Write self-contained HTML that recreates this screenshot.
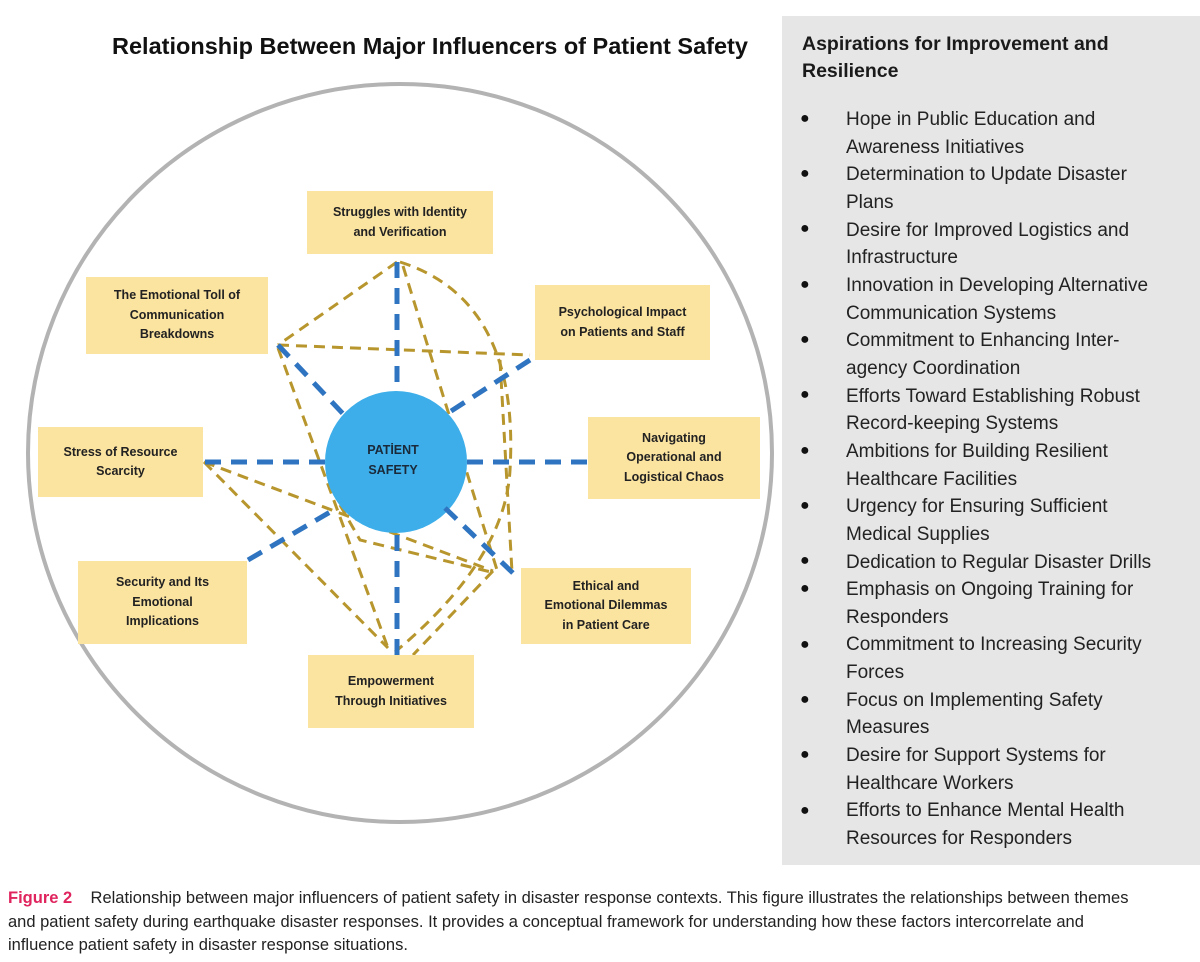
<!DOCTYPE html>
<html><head><meta charset="utf-8"><style>
body{margin:0;width:1200px;height:962px;background:#fff;position:relative;overflow:hidden;font-family:"Liberation Sans",sans-serif;}
.title{position:absolute;left:112px;top:33px;font-size:23.5px;font-weight:bold;color:#111;white-space:nowrap;}
.panel{position:absolute;left:782px;top:16px;width:418px;height:849px;background:#e6e6e6;}
.ph{position:absolute;left:802px;top:31px;font-size:19.5px;font-weight:bold;color:#1a1a1a;line-height:27px;white-space:nowrap;}
.li{position:absolute;left:846px;font-size:19px;color:#222;line-height:27.65px;white-space:nowrap;}
.bu{position:absolute;left:800px;font-size:16px;color:#111;}
.box{position:absolute;background:#fbe3a0;display:flex;align-items:center;justify-content:center;text-align:center;font-size:12.5px;font-weight:bold;color:#222;line-height:19.5px;}
.cap{position:absolute;left:8px;top:887px;width:1190px;font-size:16.5px;line-height:23.5px;color:#222;white-space:nowrap;}
.cap b{color:#e0245e;}
</style></head><body>
<div class="title">Relationship Between Major Influencers of Patient Safety</div>
<div class="panel"></div>
<div class="ph">Aspirations for Improvement and<br>Resilience</div>
<svg width="1200" height="962" style="position:absolute;left:0;top:0">
<ellipse cx="400" cy="453" rx="372" ry="369" fill="none" stroke="#b3b3b3" stroke-width="4"/>
<g fill="none" stroke="#b8962e" stroke-width="3" stroke-dasharray="11,7">
<line x1="397" y1="262" x2="278" y2="345"/>
<line x1="278" y1="345" x2="530" y2="355"/>
<path d="M400 262 Q520 300 510 470 Q505 560 395 652"/>
<line x1="403" y1="266" x2="497" y2="570"/>
<line x1="500" y1="360" x2="512" y2="572"/>
<line x1="278" y1="348" x2="388" y2="648"/>
<line x1="204" y1="462" x2="388" y2="648"/>
<polyline points="204,462 345,515 493,571"/>
<polyline points="493,571 413,655"/>
<polyline points="340,505 360,540 495,573"/>
</g>
<circle cx="396" cy="462" r="71" fill="#3daee9"/>
<g fill="none" stroke="#2f74c0" stroke-width="5" stroke-dasharray="16,10">
<line x1="397" y1="262" x2="397" y2="390"/>
<line x1="397" y1="535" x2="397" y2="655"/>
<line x1="205" y1="462" x2="330" y2="462"/>
<line x1="467" y1="462" x2="588" y2="462"/>
<line x1="278" y1="345" x2="347" y2="418"/>
<line x1="530" y1="360" x2="445" y2="415"/>
<line x1="248" y1="560" x2="337" y2="508"/>
<line x1="445" y1="508" x2="515" y2="575"/>
</g>
<text x="393" y="454" font-family="Liberation Sans" font-size="12.5" font-weight="bold" fill="#1a2a3a" text-anchor="middle">PATİENT</text>
<text x="393" y="474" font-family="Liberation Sans" font-size="12.5" font-weight="bold" fill="#1a2a3a" text-anchor="middle">SAFETY</text>
</svg>
<div class="box" style="left:307px;top:191px;width:186px;height:63px">Struggles with Identity<br>and Verification</div>
<div class="box" style="left:86px;top:277px;width:182px;height:77px">The Emotional Toll of<br>Communication<br>Breakdowns</div>
<div class="box" style="left:535px;top:285px;width:175px;height:75px">Psychological Impact<br>on Patients and Staff</div>
<div class="box" style="left:38px;top:427px;width:165px;height:70px">Stress of Resource<br>Scarcity</div>
<div class="box" style="left:588px;top:417px;width:172px;height:82px">Navigating<br>Operational and<br>Logistical Chaos</div>
<div class="box" style="left:78px;top:561px;width:169px;height:83px">Security and Its<br>Emotional<br>Implications</div>
<div class="box" style="left:521px;top:568px;width:170px;height:76px">Ethical and<br>Emotional Dilemmas<br>in Patient Care</div>
<div class="box" style="left:308px;top:655px;width:166px;height:73px">Empowerment<br>Through Initiatives</div>

<div class="li" style="top:106px">Hope in Public Education and<br>Awareness Initiatives<br>Determination to Update Disaster<br>Plans<br>Desire for Improved Logistics and<br>Infrastructure<br>Innovation in Developing Alternative<br>Communication Systems<br>Commitment to Enhancing Inter-<br>agency Coordination<br>Efforts Toward Establishing Robust<br>Record-keeping Systems<br>Ambitions for Building Resilient<br>Healthcare Facilities<br>Urgency for Ensuring Sufficient<br>Medical Supplies<br>Dedication to Regular Disaster Drills<br>Emphasis on Ongoing Training for<br>Responders<br>Commitment to Increasing Security<br>Forces<br>Focus on Implementing Safety<br>Measures<br>Desire for Support Systems for<br>Healthcare Workers<br>Efforts to Enhance Mental Health<br>Resources for Responders</div>
<div class="bu" style="top:110px">●</div>
<div class="bu" style="top:165px">●</div>
<div class="bu" style="top:220px">●</div>
<div class="bu" style="top:276px">●</div>
<div class="bu" style="top:331px">●</div>
<div class="bu" style="top:386px">●</div>
<div class="bu" style="top:442px">●</div>
<div class="bu" style="top:497px">●</div>
<div class="bu" style="top:552px">●</div>
<div class="bu" style="top:580px">●</div>
<div class="bu" style="top:636px">●</div>
<div class="bu" style="top:691px">●</div>
<div class="bu" style="top:746px">●</div>
<div class="bu" style="top:802px">●</div>

<div class="cap"><b>Figure 2</b>&nbsp;&nbsp;&nbsp; Relationship between major influencers of patient safety in disaster response contexts. This figure illustrates the relationships between themes<br>and patient safety during earthquake disaster responses. It provides a conceptual framework for understanding how these factors intercorrelate and<br>influence patient safety in disaster response situations.</div>
</body></html>
